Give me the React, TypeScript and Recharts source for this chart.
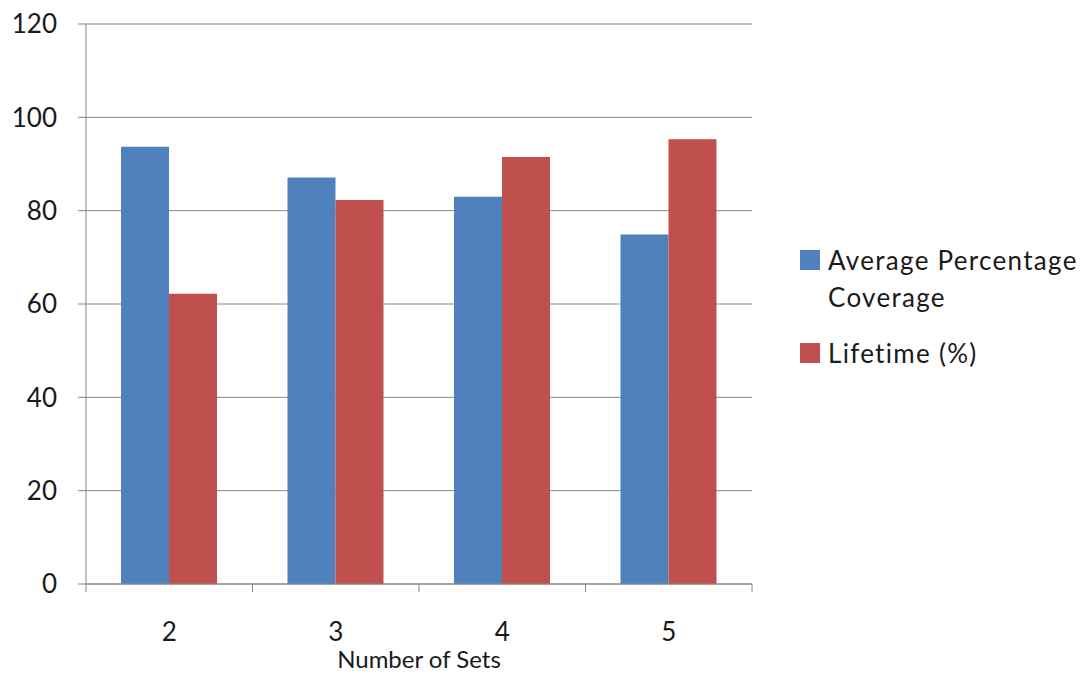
import React from 'react';
import { BarChart, Bar, XAxis, YAxis, CartesianGrid, Legend } from 'recharts';

const COLORS = {
    blue: '#4F81BD',
    red: '#C0504D',
    grid: '#868686',
    text: '#1a1a1a'
};

const FONT = 'Lato, "Open Sans", sans-serif';

const CHART_W = 1084;
const CHART_H = 674;
const MARGIN = { top: 24, right: 48, left: 0, bottom: 0 };
const Y_AXIS_W = 86;
const LEGEND_W = 284;

// values
const sets = ['2', '3', '4', '5'];
const coverage = [93.7, 87.1, 83.0, 74.9];
const lifetime = [62.2, 82.3, 91.5, 95.3];
const yTicks = [0, 20, 40, 60, 80, 100, 120];

const seriesNames = ['Average Percentage Coverage', 'Lifetime (%)'];
const seriesLines = [['Average Percentage', 'Coverage'], ['Lifetime (%)']];
const seriesColors = [COLORS.blue, COLORS.red];

const data = sets.map((s, i) => ({ name: s, coverage: coverage[i], lifetime: lifetime[i] }));

// half of one category band, for the tick marks that sit between groups
const plotW = CHART_W - MARGIN.left - MARGIN.right - Y_AXIS_W - LEGEND_W;
const halfBand = plotW / sets.length / 2;

const CategoryTick = (props: any) => {
    const { x, y, payload, index } = props;
    return (
        <g>
            <line x1={x - halfBand} x2={x - halfBand} y1={y} y2={y + 8} stroke={COLORS.grid} />
            {index === sets.length - 1 && (
                <line x1={x + halfBand} x2={x + halfBand} y1={y} y2={y + 8} stroke={COLORS.grid} />
            )}
            <text x={x} y={y + 39} dy="0.71em" textAnchor="middle" fontSize={26} fill={COLORS.text} fontFamily={FONT}>
                {payload.value}
            </text>
        </g>
    );
};

const renderLegend = () => (
    <div style={{ fontFamily: FONT, fontSize: 26, color: COLORS.text, letterSpacing: 1.3 }}>
        {seriesLines.map((lines, i) => (
            <div key={`leg-${i}`} style={{ display: 'flex', alignItems: 'flex-start', marginBottom: 19 }}>
                <span style={{ width: 20, height: 20, background: seriesColors[i], marginTop: 8, marginRight: 8, flex: 'none' }} />
                <div style={{ lineHeight: '37px' }}>
                    {lines.map((l, j) => <div key={`l-${j}`}>{l}</div>)}
                </div>
            </div>
        ))}
    </div>
);

export default function App() {
    return (
        <div style={{ position: 'absolute', left: 0, top: 0, width: CHART_W, height: CHART_H, background: '#fff' }}>
            <BarChart width={CHART_W} height={CHART_H} data={data} barGap={0} margin={MARGIN}>
                <CartesianGrid vertical={false} stroke={COLORS.grid} />
                <XAxis dataKey="name" height={90} tickSize={0} tickMargin={0} tickLine={false} interval={0}
                    axisLine={{ stroke: COLORS.grid }}
                    tick={<CategoryTick />}
                    label={{ value: 'Number of Sets', position: 'insideBottom', offset: 6, fontSize: 24, fill: COLORS.text, fontFamily: FONT }} />
                <YAxis width={Y_AXIS_W} domain={[0, 120]} ticks={yTicks} interval={0} tickSize={8} tickMargin={21}
                    axisLine={{ stroke: COLORS.grid }} tickLine={{ stroke: COLORS.grid }}
                    tick={{ fontSize: 26, fill: COLORS.text, fontFamily: FONT }} />
                <Legend content={renderLegend} layout="vertical" align="right" verticalAlign="top"
                    wrapperStyle={{ position: 'absolute', left: 800, top: 242, width: LEGEND_W }} />
                <Bar dataKey="coverage" name={seriesNames[0]} fill={COLORS.blue} barSize={48} isAnimationActive={false} />
                <Bar dataKey="lifetime" name={seriesNames[1]} fill={COLORS.red} barSize={48} isAnimationActive={false} />
            </BarChart>
        </div>
    );
}
